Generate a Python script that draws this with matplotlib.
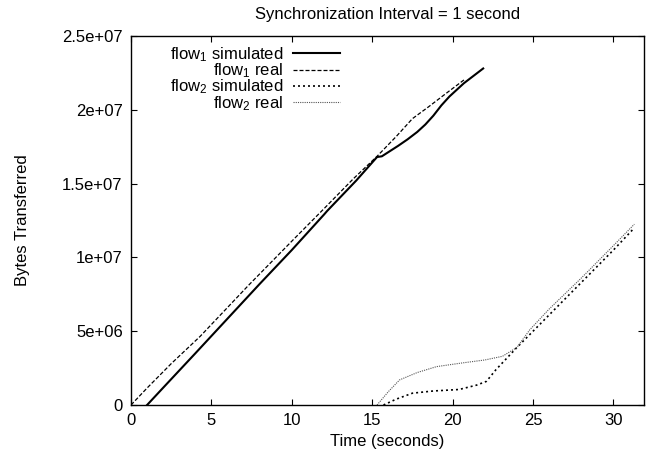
import matplotlib
matplotlib.use("Agg")
import matplotlib.pyplot as plt

plt.rcParams['font.family'] = ['Liberation Sans', 'DejaVu Sans']
plt.rcParams['mathtext.fontset'] = 'custom'
plt.rcParams['mathtext.rm'] = 'Liberation Sans'
plt.rcParams['mathtext.it'] = 'Liberation Sans:italic'

# flow1 simulado
t_f1_sim = [1.0, 2, 4, 6, 8, 10, 12, 12.2, 14, 15.3, 15.6, 16.6, 17.2, 17.8, 18.3, 18.8,
            19.3, 19.8, 20.7, 21.9]
b_f1_sim = [0, 1.17e6, 3.5e6, 5.85e6, 8.2e6, 10.5e6, 12.9e6, 13.15e6, 15.2e6, 16.8e6, 16.85e6,
            17.55e6, 18.0e6, 18.5e6, 19.0e6, 19.6e6, 20.3e6, 20.9e6, 21.8e6, 22.8e6]

# flow1 real
t_f1_real = [0, 1, 2.5, 4.3, 7.3, 10, 12, 13.8, 15.3, 16.5, 17.5, 18.5, 19.7, 20.75]
b_f1_real = [0, 1.15e6, 2.8e6, 4.65e6, 8.1e6, 11.1e6, 13.3e6, 15.3e6, 16.85e6, 18.2e6,
             19.4e6, 20.2e6, 21.2e6, 22.06e6]

# flow2 simulado
t_f2_sim = [15.7, 16.5, 17.5, 18.8, 20.4, 21.5, 22.1, 22.7, 24.0, 26, 28, 30, 31.3]
b_f2_sim = [0, 0.4e6, 0.8e6, 0.95e6, 1.05e6, 1.35e6, 1.6e6, 2.4e6, 3.9e6, 6.1e6, 8.3e6,
            10.5e6, 12.0e6]

# flow2 real
t_f2_real = [15.3, 16.0, 16.7, 17.8, 19.0, 20.6, 22.0, 23.1, 24.0, 24.8, 26, 28, 30, 31.3]
b_f2_real = [0, 0.9e6, 1.7e6, 2.2e6, 2.6e6, 2.85e6, 3.05e6, 3.3e6, 3.9e6, 5.1e6, 6.5e6,
             8.6e6, 10.8e6, 12.25e6]

xticks = [0, 5, 10, 15, 20, 25, 30]
yticks = [0, 5e6, 10e6, 15e6, 20e6, 25e6]
ytick_labels = ['0', '5e+06', '1e+07', '1.5e+07', '2e+07', '2.5e+07']

fig = plt.figure(figsize=(6.49, 4.65), dpi=100)
ax = fig.add_axes([131 / 649, 60 / 465, 513 / 649, 369 / 465])

ax.plot(t_f1_sim, b_f1_sim, color='black', lw=1.5, label='flow$_1$ simulated')
ax.plot(t_f1_real, b_f1_real, color='black', lw=0.9, dashes=(3.2, 1.6), label='flow$_1$ real')
ax.plot(t_f2_sim, b_f2_sim, color='black', lw=1.2, dashes=(1.2, 1.8), label='flow$_2$ simulated')
ax.plot(t_f2_real, b_f2_real, color='#555555', lw=0.8, dashes=(1, 1), label='flow$_2$ real')

ax.set_xlim(0, 31.9)
ax.set_ylim(0, 2.5e7)
ax.set_xticks(xticks)
ax.set_yticks(yticks)
ax.set_yticklabels(ytick_labels)
ax.tick_params(direction='in', length=4, width=0.8, top=True, right=True,
               labelsize=12, pad=6)
for s in ax.spines.values():
    s.set_linewidth(1.0)

ax.set_xlabel('Time (seconds)', fontsize=12, labelpad=4)
ax.set_ylabel('Bytes Transferred', fontsize=12, labelpad=23)
ax.set_title('Synchronization Interval = 1 second', fontsize=12, pad=12.5)

ax.legend(loc='upper right', bbox_to_anchor=(0.407, 0.975), frameon=False,
          markerfirst=False, fontsize=12, handlelength=2.8, handletextpad=0.6,
          labelspacing=-0.15, borderpad=0, borderaxespad=0)

plt.savefig('out.png', dpi=100)
